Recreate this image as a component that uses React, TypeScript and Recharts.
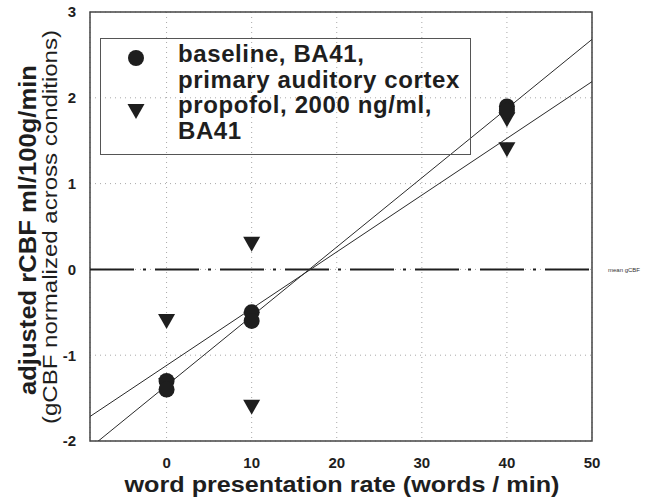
import {
  CartesianGrid,
  ComposedChart,
  Legend,
  Line,
  ReferenceArea,
  ReferenceLine,
  Scatter,
  XAxis,
  YAxis,
} from 'recharts'

// axes
const xTicks = [0, 10, 20, 30, 40, 50]
const yTicks = [-2, -1, 0, 1, 2, 3]
const xDomain = [-9, 50]
const yDomain = [-2, 3]

// values (rate in words/min, adjusted rCBF)
const baselineRate = [0, 0, 10, 10, 40, 40]
const baselineFlow = [-1.3, -1.4, -0.5, -0.6, 1.9, 1.85]
const propofolRate = [0, 0, 10, 10, 40, 40]
const propofolFlow = [-1.35, -0.6, 0.3, -1.6, 1.75, 1.4]

const legendLines = [
  'baseline, BA41,',
  'primary auditory cortex',
  'propofol, 2000 ng/ml,',
  'BA41',
]

const FONT = '"Liberation Sans", Arial, sans-serif'
const INK = '#1e1e1e'

const toPoints = (xs: number[], ys: number[]) =>
  xs.map((x, i) => ({ x, y: ys[i] }))

// least squares line through a series, drawn across the x domain
const fitLine = (xs: number[], ys: number[]) => {
  const n = xs.length
  const mx = xs.reduce((a, b) => a + b, 0) / n
  const my = ys.reduce((a, b) => a + b, 0) / n
  let sxy = 0
  let sxx = 0
  xs.forEach((x, i) => {
    sxy += (x - mx) * (ys[i] - my)
    sxx += (x - mx) * (x - mx)
  })
  const slope = sxy / sxx
  const icpt = my - slope * mx
  return xDomain.map((x) => ({ x, y: icpt + slope * x }))
}

const baselinePts = toPoints(baselineRate, baselineFlow)
const propofolPts = toPoints(propofolRate, propofolFlow)
const baselineFit = fitLine(baselineRate, baselineFlow)
const propofolFit = fitLine(propofolRate, propofolFlow)

const Dot = (p: any) => <circle cx={p.cx} cy={p.cy} r={8} fill={INK} />

const Tri = (p: any) => (
  <path
    d={`M${p.cx - 8.5},${p.cy - 7} L${p.cx + 8.5},${p.cy - 7} L${p.cx},${p.cy + 8} Z`}
    fill={INK}
  />
)

const YTitle = () => (
  <g fill={INK} fontFamily={FONT}>
    <text
      transform="translate(36,230) rotate(-90)"
      textAnchor="middle"
      fontSize={23}
      fontWeight="bold"
      textLength={330}
      lengthAdjust="spacingAndGlyphs"
    >
      adjusted rCBF ml/100g/min
    </text>
    <text
      transform="translate(57,227) rotate(-90)"
      textAnchor="middle"
      fontSize={21}
      textLength={394}
      lengthAdjust="spacingAndGlyphs"
    >
      (gCBF normalized across conditions)
    </text>
  </g>
)

const XTitle = () => (
  <text
    x={342}
    y={492}
    textAnchor="middle"
    fill={INK}
    fontFamily={FONT}
    fontSize={22}
    fontWeight="bold"
    textLength={435}
    lengthAdjust="spacingAndGlyphs"
  >
    word presentation rate (words / min)
  </text>
)

const LegendBox = () => (
  <svg width={372} height={118} style={{ display: 'block' }}>
    <rect x={0.5} y={0.5} width={370} height={116} fill="none" stroke="#555" />
    <circle cx={36} cy={20} r={8} fill={INK} />
    <path d="M27.5,66 L44.5,66 L36,81 Z" fill={INK} />
    {legendLines.map((t, i) => (
      <text
        key={t}
        x={78}
        y={24 + i * 25.5}
        fill={INK}
        fontFamily={FONT}
        fontSize={24}
        fontWeight="bold"
        letterSpacing={0.6}
      >
        {t}
      </text>
    ))}
  </svg>
)

const tickStyle = { fill: INK, fontSize: 15, fontWeight: 'bold', fontFamily: FONT }

export default function App() {
  return (
    <div style={{ position: 'absolute', left: 0, top: 0, background: '#fff' }}>
      <ComposedChart
        width={654}
        height={504}
        margin={{ top: 12, right: 62, bottom: 33, left: 40 }}
      >
        <CartesianGrid stroke="#a8a8a8" strokeDasharray="1 4" />
        <XAxis
          dataKey="x"
          type="number"
          domain={xDomain}
          ticks={xTicks}
          allowDataOverflow
          axisLine={false}
          tickLine={false}
          tickMargin={10}
          height={30}
          tick={tickStyle}
          label={<XTitle />}
        />
        <YAxis
          dataKey="y"
          type="number"
          domain={yDomain}
          ticks={yTicks}
          allowDataOverflow
          axisLine={false}
          tickLine={false}
          tickMargin={8}
          width={50}
          tick={tickStyle}
          label={<YTitle />}
        />
        <ReferenceArea
          x1={xDomain[0]}
          x2={xDomain[1]}
          y1={yDomain[0]}
          y2={yDomain[1]}
          fill="none"
          stroke="#444"
          strokeWidth={1.5}
        />
        <ReferenceLine
          y={0}
          stroke={INK}
          strokeWidth={2}
          strokeDasharray="44 9 3 9"
          label={{
            value: 'mean gCBF',
            position: 'right',
            offset: 16,
            fontSize: 6,
            fill: '#333',
            fontFamily: FONT,
          }}
        />
        <Line
          data={baselineFit}
          dataKey="y"
          type="linear"
          stroke="#2a2a2a"
          strokeWidth={1}
          dot={false}
          activeDot={false}
          isAnimationActive={false}
        />
        <Line
          data={propofolFit}
          dataKey="y"
          type="linear"
          stroke="#2a2a2a"
          strokeWidth={1}
          dot={false}
          activeDot={false}
          isAnimationActive={false}
        />
        <Scatter data={propofolPts} shape={Tri} isAnimationActive={false} />
        <Scatter data={baselinePts} shape={Dot} isAnimationActive={false} />
        <Legend
          layout="horizontal"
          verticalAlign="middle"
          align="center"
          wrapperStyle={{ left: 100, top: 38, width: 372, height: 118 }}
          content={() => <LegendBox />}
        />
      </ComposedChart>
    </div>
  )
}
